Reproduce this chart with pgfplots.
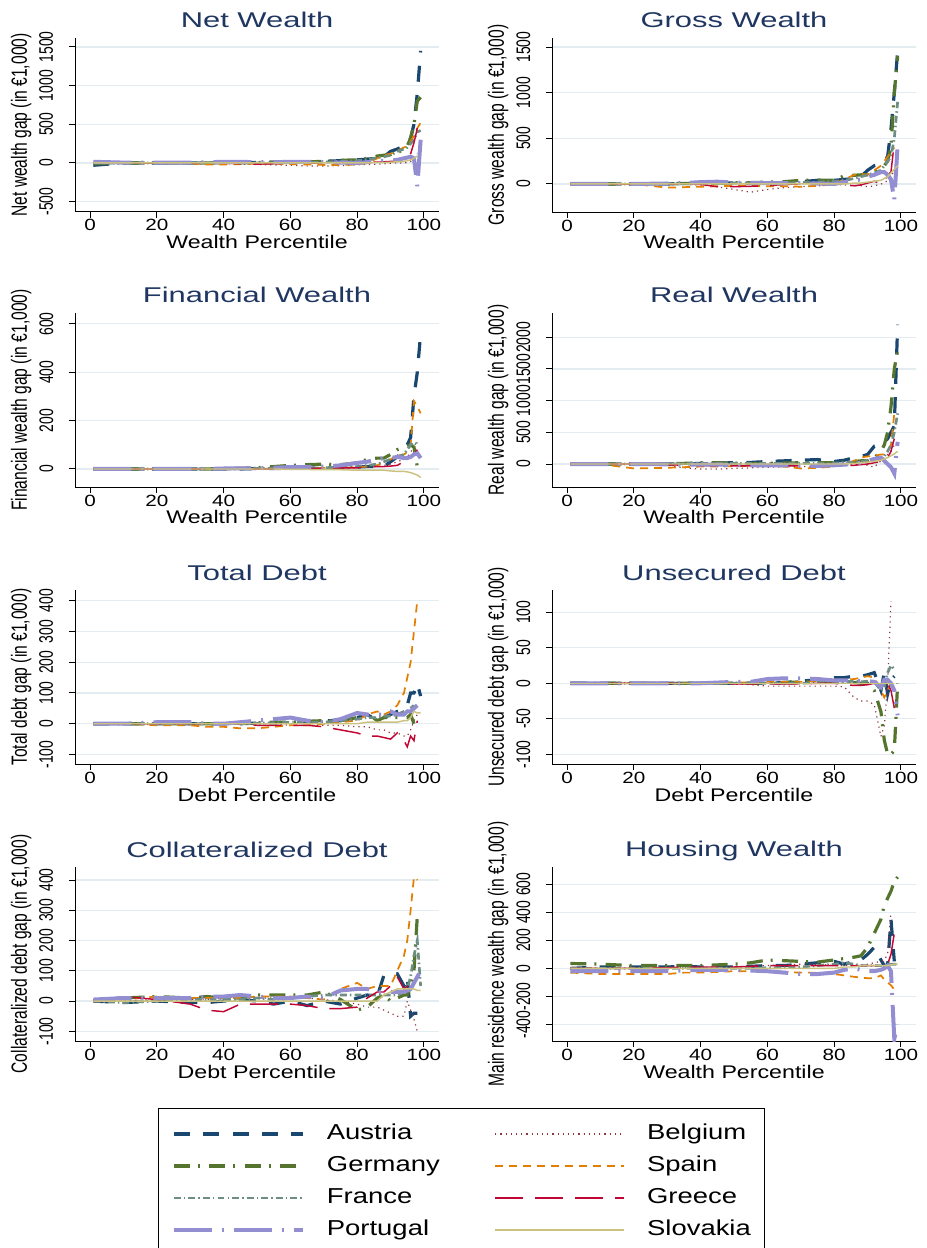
\documentclass[border=0pt]{standalone}
\usepackage{pgfplots}
\pgfplotsset{compat=1.18}
\usepackage{pgfplotstable}
\usepackage{fontspec}
\setmainfont{Liberation Sans}[FakeStretch=1.27]
\newfontfamily\tfont{Liberation Sans}[FakeStretch=1.45]
\newfontfamily\vfont{Liberation Sans}[FakeStretch=0.71]

\definecolor{cAT}{HTML}{1A476F}
\definecolor{cBE}{HTML}{90353B}
\definecolor{cDE}{HTML}{55752F}
\definecolor{cES}{HTML}{E37E00}
\definecolor{cFR}{HTML}{6E8E84}
\definecolor{cGR}{HTML}{C10534}
\definecolor{cPT}{HTML}{938DD2}
\definecolor{cSK}{HTML}{CAC27E}
\definecolor{titlec}{HTML}{1F3661}
\definecolor{gridc}{HTML}{E3ECF0}

\tikzset{
 sAT/.style={color=cAT, line width=2.4pt, dash pattern=on 12pt off 10pt},
 sBE/.style={color=cBE, line width=0.9pt, dash pattern=on 0.9pt off 3pt},
 sDE/.style={color=cDE, line width=2.4pt, dash pattern=on 12pt off 6pt on 1.5pt off 7pt},
 sES/.style={color=cES, line width=1.3pt, dash pattern=on 6pt off 4.5pt},
 sFR/.style={color=cFR, line width=2pt, dash pattern=on 5.2pt off 2.3pt on 1.1pt off 2.3pt},
 sGR/.style={color=cGR, line width=1.1pt, dash pattern=on 21pt off 9pt},
 sPT/.style={color=cPT, line width=3pt, dash pattern=on 28.5pt off 7.5pt on 1.5pt off 7.5pt},
 sSK/.style={color=cSK, line width=1.1pt},
}

\pgfplotsset{
 panel/.style={
  scale only axis, width=273pt, height=130.5pt,
  xmin=-4.5, xmax=104.5,
  axis x line*=bottom, axis y line*=left,
  axis line style={-, black, line width=0.75pt},
  xtick={0,20,40,60,80,100},
  ymajorgrids, grid style={gridc, line width=0.9pt},
  tick align=outside, major tick length=4.5pt,
  every tick/.style={black, line width=0.75pt},
  /pgf/number format/assume math mode=true,
  /pgf/number format/1000 sep={},
  xticklabel style={font=\fontsize{12.2}{12.2}\selectfont, anchor=base, yshift=-9.75pt},
  yticklabel style={font=\vfont\fontsize{14.7}{14.7}\selectfont, xshift=-12pt, rotate=90, anchor=base},
  every axis title/.style={at={(axis description cs:0.5,1.0575)}, anchor=base, font=\tfont\fontsize{16}{16}\selectfont, color=titlec},
  every axis x label/.style={at={(axis description cs:0.5,-0.2126)}, anchor=base, font=\fontsize{13.7}{13.7}\selectfont},
  every axis y label/.style={at={(axis description cs:-0.132,0.5)}, rotate=90, anchor=base, font=\vfont\fontsize{16.5}{16.5}\selectfont},
  unbounded coords=discard,
 }
}

\newcommand{\allplots}[1]{%
 \addplot[sAT] table[x=x,y=AT]{#1};
 \addplot[sBE] table[x=x,y=BE]{#1};
 \addplot[sDE] table[x=x,y=DE]{#1};
 \addplot[sES] table[x=x,y=ES]{#1};
 \addplot[sFR] table[x=x,y=FR]{#1};
 \addplot[sGR] table[x=x,y=GR]{#1};
 \addplot[sPT] table[x=x,y=PT]{#1};
 \addplot[sSK] table[x=x,y=SK]{#1};
}

% Net wealth
\pgfplotstableread{
x   AT   BE   DE   ES   FR   GR   PT   SK
1   -30  0    -10  0    0    0    15   0
10  0    0    0    0    0    0    5    0
20  0    0    0    0    0    0    5    0
30  0    -5   0    -5   0    0    5    0
35  0    -5   0    -20  5    0    10   0
40  5    -10  5    -20  5    0    15   0
45  5    -15  5    -15  0    -10  15   0
50  5    -20  5    -10  0    -15  10   0
55  10   -25  10   -10  0    -10  10   0
60  10   -30  10   -15  5    -5   15   0
65  15   -40  15   -20  5    0    15   0
70  20   -40  20   -25  10   0    10   0
75  30   -35  35   -25  20   0    5    0
80  40   -25  40   -20  30   0    0    0
83  50   -20  60   0    40   10   10   0
86  60   -15  90   60   70   10   20   5
88  80   -10  100  100  80   15   30   5
90  150  -5   110  120  100  20   30   10
92  180  0    130  160  150  20   40   15
94  220  0    180  200  180  30   60   20
95  260  5    220  220  200  60   70   30
96  320  20   320  280  250  120  80   40
97  500  60   500  350  300  260  60   60
98  900  120  800  450  400  450  -300 90
99  1450 nan  850  520  420  nan  300  nan
}\tabA

% Gross wealth
\pgfplotstableread{
x   AT   BE   DE   ES   FR   GR   PT   SK
1   0    0    0    0    0    0    0    0
10  0    0    0    0    0    0    0    0
20  0    0    0    0    0    0    0    0
30  0    0    5    -40  0    0    5    0
35  5    -5   5    -35  0    0    10   0
40  10   -10  5    -30  5    -5   20   0
45  10   -30  10   -25  5    -30  25   0
50  10   -60  15   -20  10   -30  15   0
55  10   -90  15   -20  10   -25  10   0
60  10   -60  20   -25  10   -20  10   0
65  15   -40  25   -25  10   -5   10   0
70  25   -30  40   -30  15   0    10   0
75  40   -20  40   -20  20   0    5    0
80  40   -10  40   0    30   0    0    0
83  50   -10  90   50   40   -10  20   0
86  60   -20  95   100  60   -20  40   10
88  80   -20  100  110  80   -10  50   10
90  150  -30  100  100  100  10   80   20
92  200  -20  130  150  120  30   100  30
94  220  0    180  200  150  0    130  40
95  260  10   200  250  200  20   130  60
96  300  40   250  300  250  100  100  80
97  600  80   400  350  300  130  50   120
98  1000 150  1000 400  500  450  -180 160
99  1450 200  1400 nan  900  nan  430  200
}\tabB

% Financial wealth
\pgfplotstableread{
x   AT   BE   DE   ES   FR   GR   PT   SK
1   0    0    0    0    0    0    0    0
10  0    0    0    0    0    0    0    0
20  0    0    0    0    0    0    0    0
30  0    0    0    0    0    0    0    0
35  0    0    0    0    0    0    0    0
40  0    0    2    0    0    0    2    0
45  0    0    3    0    0    0    3    0
50  2    0    5    0    2    0    3    0
55  2    0    10   2    2    0    5    0
60  3    0    15   2    3    2    8    -2
65  3    0    18   3    3    2    8    -2
70  5    0    20   5    5    3    10   -3
75  5    2    18   5    8    5    15   -3
80  8    5    25   8    10   5    25   -5
83  10   8    40   10   15   8    30   -5
86  10   10   45   15   20   10   40   -5
88  10   15   45   30   30   10   45   -5
90  30   20   60   40   40   12   45   -8
92  50   30   80   55   50   15   50   -10
94  80   40   90   60   60   30   45   -10
95  100  50   95   70   80   40   45   -12
96  130  70   100  100  100  50   50   -15
97  300  90   90   280  110  60   60   -20
98  400  110  10   260  100  80   65   -25
99  560  nan  nan  230  nan  nan  45   -35
}\tabC

% Real wealth
\pgfplotstableread{
x   AT   BE   DE   ES   FR   GR   PT   SK
1   0    0    0    0    0    0    0    0
10  0    0    0    0    0    0    0    0
20  0    0    0    -70  0    0    0    0
30  0    -20  5    -60  0    -10  -5   0
35  0    -60  10   -50  5    -20  -10  0
40  10   -80  20   -40  10   -25  -10  0
45  15   -80  20   -40  10   -30  -10  0
50  20   -70  15   -35  10   -30  -15  0
55  25   -60  10   -30  10   -30  -20  0
60  40   -50  10   -30  10   -30  -20  0
65  50   -45  15   -40  10   -30  -20  0
70  60   -40  20   -70  10   -30  -30  0
75  70   -35  20   -60  10   -30  -30  0
80  40   -30  20   -40  15   -25  -20  0
83  60   -20  30   0    20   -20  -10  0
86  100  -10  40   50   30   -20  0    10
88  120  0    50   100  40   -10  20   20
90  150  -20  50   120  60   0    50   30
92  280  -50  100  130  80   20   80   40
94  300  50   200  150  100  40   100  60
95  350  100  300  150  120  60   50   80
96  400  150  500  200  200  100  0    100
97  500  200  900  300  300  200  -50  130
98  600  300  1500 800  500  400  -150 160
99  2200 nan  1800 nan  800  nan  350  200
}\tabD

% Total debt
\pgfplotstableread{
x   AT   BE   DE   ES   FR   GR   PT   SK
1   0    0    0    0    0    0    0    0
10  0    0    0    0    0    0    0    0
20  0    0    0    -5   0    0    5    0
30  0    0    0    -5   0    0    5    0
35  0    0    0    -10  0    0    0    0
40  0    0    0    -10  0    0    0    0
45  0    0    2    -15  0    0    5    0
50  2    0    3    -15  2    -5   10   0
55  3    0    5    -10  3    -5   15   0
60  5    -5   5    -5   5    -5   20   0
65  5    -5   8    -5   5    -5   10   0
70  10   -5   10   0    5    -10  5    0
75  10   -5   10   5    10   -20  15   0
80  20   -10  20   10   15   -30  35   0
83  30   -10  35   30   20   -40  30   5
86  10   -20  10   40   20   -40  30   5
88  20   -20  20   30   25   -45  30   5
90  30   -30  20   40   25   -50  40   5
92  40   -30  20   60   30   -30  30   5
94  50   -40  20   100  40   -55  30   10
95  60   -40  20   150  40   -75  40   10
96  100  -20  30   200  50   -40  40   20
97  100  10   0    300  60   -55  50   40
98  130  30   nan  400  nan  10   60   35
99  90   nan  nan  nan  nan  nan  nan  35
}\tabE

% Unsecured debt
\pgfplotstableread{
x   AT   BE   DE   ES   FR   GR   PT   SK
1   0    0    0    0    0    0    0    0
10  0    0    0    0    0    0    0    0
20  0    0    0    0    0    0    0    0
30  0    0    0    0    0    0    0    0
35  0    0    0    0    0    0    0    0
40  0    0    0    0    0    0    0    0
45  0    0    0    0    0    0    1    0
50  0    -1   0    1    0    -1   2    0
55  0    -2   0    1    0    -1   2    0
60  0    -4   1    2    0    -1   6    0
65  1    -4   1    2    0    -1   7    0
70  3    -4   2    2    0    -1   7    0
75  5    -4   3    3    1    0    6    0
80  8    -4   3    5    2    0    4    0
83  8    -5   2    5    2    -2   4    0
86  10   -20  1    6    3    -3   4    0
88  10   -25  0    8    2    -3   3    0
90  12   -25  0    10   3    -2   3    0
92  15   -30  -10  8    2    0    2    0
94  -10  -75  -40  -10  -10  0    -5   0
95  15   -60  -80  -20  -5   0    5    0
96  -15  0    -100 -10  15   0    5    0
97  5    115  -100 0    25   -10  0    0
98  10   nan  -95  nan  20   -35  -10  0
99  nan  nan  0    nan  nan  nan  -45  nan
}\tabF

% Collateralized debt
\pgfplotstableread{
x   AT   BE   DE   ES   FR   GR   PT   SK
1   0    0    0    0    0    0    5    0
10  -5   0    10   5    -5   15   10   0
20  0    5    15   15   0    5    10   0
30  -5   5    10   10   5    -10  10   0
35  -5   5    15   10   5    -30  15   0
40  0    10   10   10   5    -35  15   0
45  5    10   10   10   5    -10  20   0
50  0    10   20   15   10   -10  15   0
55  -10  10   20   15   5    -10  10   0
60  0    10   20   15   10   -10  10   0
65  -15  10   20   10   15   -15  15   0
70  0    5    30   5    20   -25  10   0
75  -10  0    5    40   20   -25  35   0
80  10   -10  -30  60   20   -20  40   0
83  20   -20  -20  40   20   10   40   0
86  15   -20  10   50   20   30   30   0
88  85   -30  20   50   20   30   30   20
90  85   -40  0    50   20   50   30   30
92  90   -50  10   100  20   80   30   40
94  50   -50  20   150  30   40   30   40
95  80   0    20   200  40   50   35   40
96  -50  -30  50   300  80   nan  40   40
97  -40  -60  100  410  150  nan  60   40
98  -40  -100 280  400  200  nan  80   35
99  nan  nan  nan  nan  50   nan  100  35
}\tabG

% Housing wealth
\pgfplotstableread{
x   AT   BE   DE   ES   FR   GR   PT   SK
1   0    0    35   -30  0    0    -20  0
10  10   0    30   -40  0    0    -20  0
20  10   0    20   -40  0    0    -20  0
30  10   5    20   -40  0    5    -20  0
35  15   5    20   -30  0    10   -15  0
40  10   5    20   -30  0    10   -10  0
45  10   10   25   -25  0    10   -10  0
50  10   10   30   -20  0    10   -10  0
55  15   15   40   -20  0    15   -15  0
60  20   20   60   -20  5    20   -20  0
65  20   25   55   -25  5    20   -30  0
70  30   30   50   -30  10   20   -40  0
75  40   30   45   -30  20   20   -40  0
80  50   20   60   -40  30   20   -30  0
83  30   20   70   -50  40   20   -10  10
86  50   20   80   -60  30   20   0    10
88  60   25   90   -65  20   20   -10  20
90  100  30   150  -70  20   20   -20  20
92  150  40   250  -70  20   20   -20  20
94  60   50   350  -50  20   20   -10  20
95  20   60   450  -80  20   20   0    20
96  20   100  500  -100 30   30   20   20
97  350  400  550  -120 30   100  -20  25
98  50   nan  620  -150 nan  250  -500 30
99  nan  nan  650  nan  30   nan  -400 30
}\tabH

\begin{document}
\begin{tikzpicture}
% Row 1
\begin{axis}[panel, at={(56.25pt,-159pt)}, anchor=south west,
  ymin=-634, ymax=1616, ytick={-500,0,500,1000,1500},
  title={Net Wealth}, xlabel={Wealth Percentile}, ylabel={Net wealth gap (in €1,000)}]
\allplots{\tabA}
\end{axis}
\begin{axis}[panel, at={(414pt,-159pt)}, anchor=south west,
  ymin=-307, ymax=1599, ytick={0,500,1000,1500},
  title={Gross Wealth}, xlabel={Wealth Percentile}, ylabel={Gross wealth gap (in €1,000)}]
\allplots{\tabB}
\end{axis}
% Row 2
\begin{axis}[panel, at={(56.25pt,-365.25pt)}, anchor=south west,
  ymin=-74.5, ymax=645, ytick={0,200,400,600},
  title={Financial Wealth}, xlabel={Wealth Percentile}, ylabel={Financial wealth gap (in €1,000)}]
\allplots{\tabC}
\end{axis}
\begin{axis}[panel, at={(414pt,-365.25pt)}, anchor=south west,
  ymin=-363, ymax=2384, ytick={0,500,1000,1500,2000},
  title={Real Wealth}, xlabel={Wealth Percentile}, ylabel={Real wealth gap (in €1,000)}]
\allplots{\tabD}
\end{axis}
% Row 3
\begin{axis}[panel, at={(56.25pt,-573pt)}, anchor=south west,
  ymin=-131, ymax=435, ytick={-100,0,100,200,300,400},
  title={Total Debt}, xlabel={Debt Percentile}, ylabel={Total debt gap (in €1,000)}]
\allplots{\tabE}
\end{axis}
\begin{axis}[panel, at={(414pt,-573pt)}, anchor=south west,
  ymin=-113.7, ymax=131.4, ytick={-100,-50,0,50,100},
  title={Unsecured Debt}, xlabel={Debt Percentile}, ylabel={Unsecured debt gap (in €1,000)}]
\allplots{\tabF}
\end{axis}
% Row 4
\begin{axis}[panel, at={(56.25pt,-780.75pt)}, anchor=south west,
  ymin=-132, ymax=443, ytick={-100,0,100,200,300,400},
  title={Collateralized Debt}, xlabel={Debt Percentile}, ylabel={Collateralized debt gap (in €1,000)}]
\allplots{\tabG}
\end{axis}
\begin{axis}[panel, at={(414pt,-780.75pt)}, anchor=south west,
  ymin=-517, ymax=722, ytick={-400,-200,0,200,400,600},
  title={Housing Wealth}, xlabel={Wealth Percentile}, ylabel={Main residence wealth gap (in €1,000)}]
\allplots{\tabH}
\end{axis}
% Legend
\begin{axis}[hide axis, scale only axis, width=10pt, height=10pt,
  at={(118.5pt,-831pt)}, anchor=north west,
  xmin=0, xmax=1, ymin=0, ymax=1,
  legend columns=2, legend cell align=left,
  legend image code/.code={\draw[#1] (0pt,0pt) -- (96.75pt,0pt);},
  legend style={at={(0,1)}, anchor=north west, draw=black, line width=0.9pt,
    inner xsep=10pt, inner ysep=11.75pt, row sep=9.5pt,
    font=\fontsize{16.2}{16.2}\selectfont,
    nodes={inner sep=0pt, text height=11.5pt, text depth=3pt},
    /tikz/every odd column/.style={column sep=16.5pt},
    /tikz/every even column/.style={column sep=41pt}},
]
\addlegendimage{sAT}\addlegendentry{Austria}
\addlegendimage{sBE}\addlegendentry{Belgium}
\addlegendimage{sDE}\addlegendentry{Germany}
\addlegendimage{sES}\addlegendentry{Spain}
\addlegendimage{sFR}\addlegendentry{France}
\addlegendimage{sGR}\addlegendentry{Greece}
\addlegendimage{sPT}\addlegendentry{Portugal}
\addlegendimage{sSK}\addlegendentry{Slovakia}
\end{axis}
\pgfresetboundingbox
\useasboundingbox (0pt,0pt) rectangle (694.5pt,-936pt);
\end{tikzpicture}
\end{document}
